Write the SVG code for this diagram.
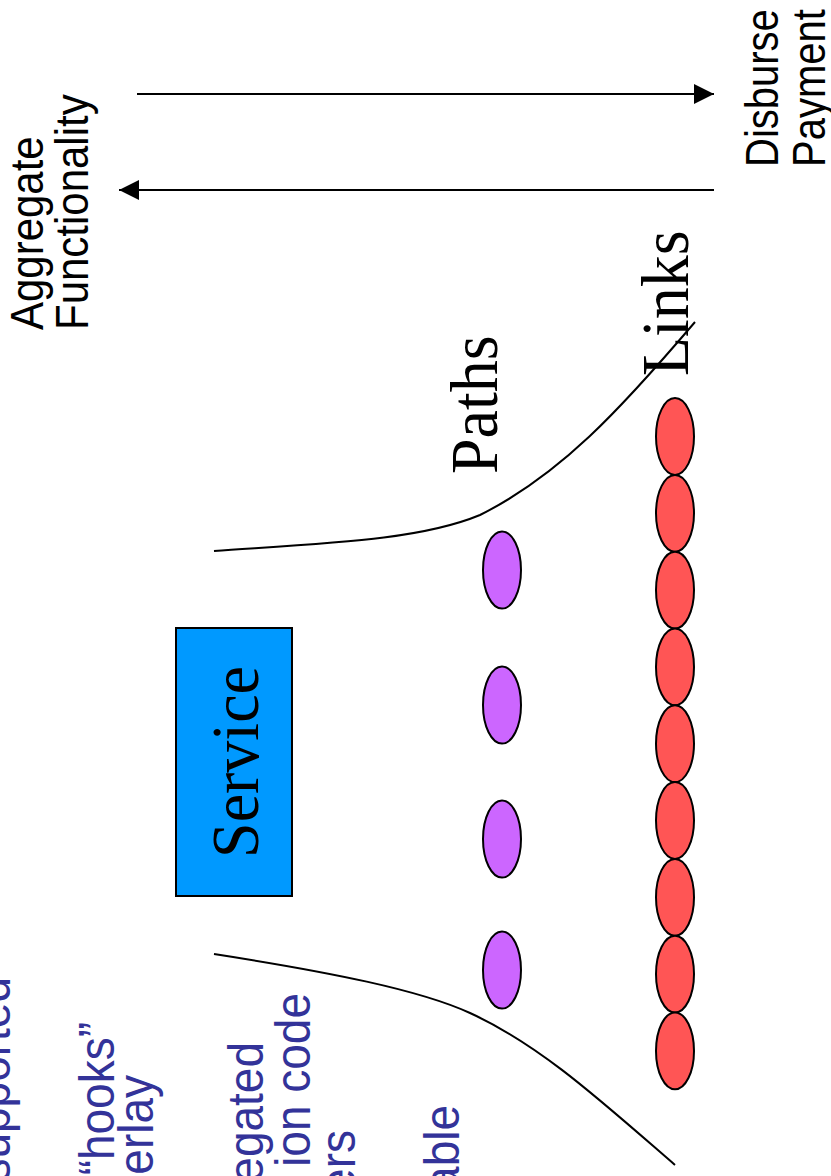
<svg xmlns="http://www.w3.org/2000/svg" width="831" height="1176" viewBox="0 0 831 1176">
  <defs>
    <marker id="arrow" viewBox="0 0 20 20" refX="20" refY="10" markerWidth="20" markerHeight="20" markerUnits="userSpaceOnUse" orient="auto">
      <path d="M0,0 L20,10 L0,20 Z" fill="#000"/>
    </marker>
    <style>
      .sans { font-family: "Liberation Sans", Arial, sans-serif; font-size: 42px; fill: #000; }
      .sans-r { font-family: "Liberation Sans", Arial, sans-serif; font-size: 40px; fill: #000; }
      .serif { font-family: "Liberation Serif", "Times New Roman", serif; font-size: 64px; fill: #000; }
      .bullet { font-family: "Liberation Sans", Arial, sans-serif; font-size: 46px; fill: #333399; }
      .path { fill: #CC66FF; stroke: #000; stroke-width: 2; }
      .link { fill: #FF5555; stroke: #000; stroke-width: 2; }
      .flow { fill: none; stroke: #000; stroke-width: 2.2; }
      .curve { fill: none; stroke: #000; stroke-width: 2; }
    </style>
  </defs>
  <rect width="831" height="1176" fill="#fff"/>

  <!-- flow arrows and funnel outline -->
  <g id="connectors">
    <line class="flow" x1="137" y1="94" x2="714" y2="94" marker-end="url(#arrow)"/>
    <line class="flow" x1="714" y1="190" x2="119" y2="190" marker-end="url(#arrow)"/>
    <path class="curve" d="M214,551 C330,543 420,540 480,515 C560,475 620,410 695,322"/>
    <path class="curve" d="M214,954 C330,972 420,990 470,1013 C540,1045 600,1100 675,1165"/>
  </g>

  <!-- arrow labels -->
  <g id="label-aggregate">
    <text class="sans" transform="translate(43,330) rotate(-90) scale(1,1.1)">Aggregate</text>
    <text class="sans" transform="translate(88,330) rotate(-90) scale(1,1.1)">Functionality</text>
  </g>
  <g id="label-disburse">
    <text class="sans-r" transform="translate(778,167) rotate(-90) scale(1,1.14)">Disburse</text>
    <text class="sans-r" transform="translate(825,167) rotate(-90) scale(1,1.14)">Payment</text>
  </g>

  <!-- service box -->
  <g id="service">
    <rect x="176" y="628" width="116" height="268" fill="#0099FF" stroke="#000" stroke-width="2"/>
    <text class="serif" text-anchor="middle" transform="translate(258,762) rotate(-90) scale(1,1.06)">Service</text>
  </g>

  <!-- path layer -->
  <g id="paths">
    <text class="serif" transform="translate(497,474) rotate(-90) scale(1,1.06)">Paths</text>
    <ellipse class="path" cx="502" cy="570" rx="19" ry="38.5"/>
    <ellipse class="path" cx="502" cy="705" rx="19" ry="38.5"/>
    <ellipse class="path" cx="502" cy="839" rx="19" ry="38.5"/>
    <ellipse class="path" cx="502" cy="970" rx="19" ry="38.5"/>
  </g>

  <!-- link layer -->
  <g id="links">
    <text class="serif" transform="translate(688,376) rotate(-90) scale(1,1.06)">Links</text>
    <ellipse class="link" cx="675" cy="436.5" rx="19" ry="38.4"/>
    <ellipse class="link" cx="675" cy="513.3" rx="19" ry="38.4"/>
    <ellipse class="link" cx="675" cy="590.1" rx="19" ry="38.4"/>
    <ellipse class="link" cx="675" cy="666.9" rx="19" ry="38.4"/>
    <ellipse class="link" cx="675" cy="743.7" rx="19" ry="38.4"/>
    <ellipse class="link" cx="675" cy="820.5" rx="19" ry="38.4"/>
    <ellipse class="link" cx="675" cy="897.3" rx="19" ry="38.4"/>
    <ellipse class="link" cx="675" cy="974.1" rx="19" ry="38.4"/>
    <ellipse class="link" cx="675" cy="1050.9" rx="19" ry="38.4"/>
  </g>

  <!-- bullet text running off the lower edge -->
  <g id="notes">
    <text class="bullet" text-anchor="end" transform="translate(10,977) rotate(-90) scale(1,1.08)">supported</text>
    <text class="bullet" text-anchor="end" transform="translate(114,1022) rotate(-90) scale(1,1.08)">“hooks”</text>
    <text class="bullet" text-anchor="end" transform="translate(153,1075) rotate(-90) scale(1,1.08)">erlay</text>
    <text class="bullet" text-anchor="end" transform="translate(263,1042) rotate(-90) scale(1,1.08)">egated</text>
    <text class="bullet" text-anchor="end" transform="translate(310,993) rotate(-90) scale(1,1.08)">ion code</text>
    <text class="bullet" text-anchor="end" transform="translate(355,1130) rotate(-90) scale(1,1.08)">ers</text>
    <text class="bullet" text-anchor="end" transform="translate(459,1105) rotate(-90) scale(1,1.08)">able</text>
  </g>
</svg>
